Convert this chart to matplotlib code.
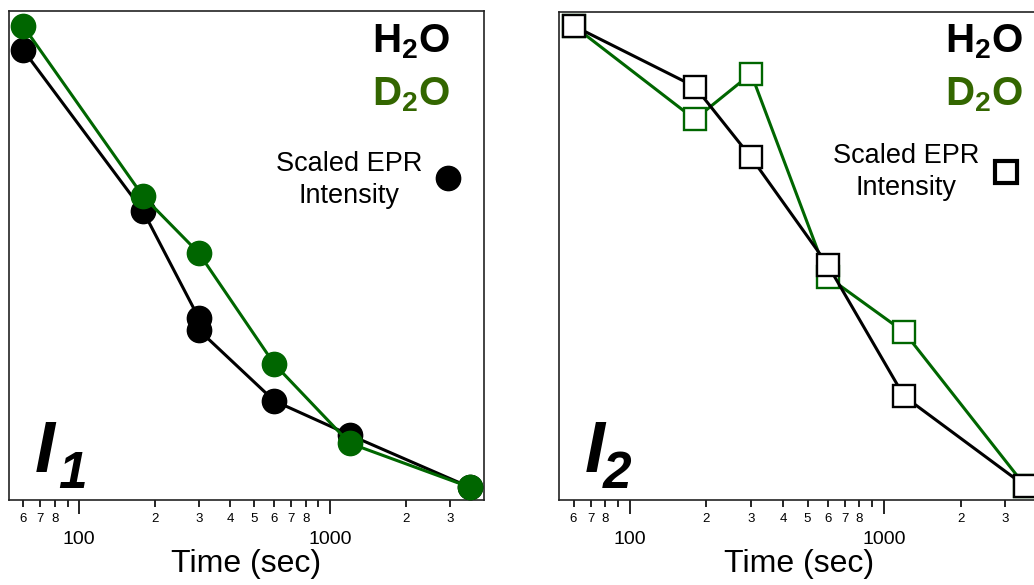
import matplotlib
matplotlib.use("Agg")
import matplotlib.pyplot as plt
from matplotlib.ticker import FixedLocator, FixedFormatter, NullLocator

plt.rcParams['font.family'] = ['Liberation Sans', 'DejaVu Sans']
plt.rcParams['mathtext.fontset'] = 'custom'
plt.rcParams['mathtext.rm'] = 'Liberation Sans'
plt.rcParams['mathtext.bf'] = 'Liberation Sans:bold'

# time points (sec)
t = [60, 180, 300, 600, 1200, 3600]
t_h2o_i1 = [60, 180, 300, 300, 600, 1200, 3600]   # replicate at 300 s

# scaled EPR intensity (normalised)
h2o_i1 = [0.948, 0.599, 0.367, 0.341, 0.187, 0.113, 0.0]
d2o_i1 = [1.0, 0.631, 0.508, 0.267, 0.095, 0.0]
h2o_i2 = [1.0, 0.868, 0.714, 0.481, 0.195, 0.0]
d2o_i2 = [1.0, 0.797, 0.896, 0.455, 0.335, 0.0]

minor_ticks = [60, 70, 80, 90, 200, 300, 400, 500, 600, 700, 800, 900, 2000, 3000]
minor_labels = ['6', '7', '8', '', '2', '3', '4', '5', '6', '7', '8', '', '2', '3']
major_ticks = [100, 1000]
major_labels = ['100', '1000']

GREEN = '#006600'
GREEN_TXT = '#336600'

fig = plt.figure(figsize=(10.34, 5.85), dpi=100)
ax1 = fig.add_axes([9 / 1034, 85 / 585, 475 / 1034, 489 / 585])
ax2 = fig.add_axes([559 / 1034, 85 / 585, 481 / 1034, 488 / 585])


def style_axis(ax, ylim):
    ax.set_xscale('log')
    ax.set_xlim(52.6, 4110)
    ax.set_ylim(*ylim)
    ax.xaxis.set_major_locator(FixedLocator(major_ticks))
    ax.xaxis.set_major_formatter(FixedFormatter(major_labels))
    ax.xaxis.set_minor_locator(FixedLocator(minor_ticks))
    ax.xaxis.set_minor_formatter(FixedFormatter(minor_labels))
    ax.yaxis.set_major_locator(NullLocator())
    ax.yaxis.set_minor_locator(NullLocator())
    ax.tick_params(axis='x', which='major', direction='out', length=10, width=1.2,
                   labelsize=14, pad=12)
    ax.tick_params(axis='x', which='minor', direction='out', length=5, width=1.2,
                   labelsize=9.5, pad=4)
    for s in ax.spines.values():
        s.set_linewidth(1.2)
        s.set_color('#222222')
    ax.set_xlabel('Time (sec)', fontsize=23, labelpad=1)


# I1 panel
ax1.plot(t_h2o_i1, h2o_i1, '-o', color='black', lw=2.2, ms=17.5, zorder=3)
ax1.plot(t, d2o_i1, '-o', color=GREEN, lw=2.2, ms=17.5, zorder=4)
style_axis(ax1, (-0.028, 1.033))

ax1.text(0.928, 0.937, r'H$\mathbf{_2}$O', transform=ax1.transAxes, ha='right', va='center',
         fontsize=29, fontweight='bold', color='black')
ax1.text(0.928, 0.828, r'D$\mathbf{_2}$O', transform=ax1.transAxes, ha='right', va='center',
         fontsize=29, fontweight='bold', color=GREEN_TXT)
ax1.text(0.716, 0.655, 'Scaled EPR\nIntensity', transform=ax1.transAxes, ha='center',
         va='center', fontsize=19.5, linespacing=1.3)
ax1.plot([0.924], [0.658], 'o', color='black', ms=17.5, transform=ax1.transAxes)
ax1.text(0.055, 0.057, 'I', transform=ax1.transAxes, fontsize=52, fontweight='bold',
         fontstyle='italic', ha='left', va='baseline')
ax1.text(0.103, 0.0245, '1', transform=ax1.transAxes, fontsize=37, fontweight='bold',
         fontstyle='italic', ha='left', va='baseline')

# I2 panel
ax2.plot(t, d2o_i2, '-s', color=GREEN, lw=2.2, ms=16.5, mfc='white', mew=1.7, zorder=3)
ax2.plot(t, h2o_i2, '-s', color='black', lw=2.2, ms=16.5, mfc='white', mew=1.7, zorder=4)
style_axis(ax2, (-0.030, 1.030))
ax2.spines['right'].set_visible(False)

ax2.text(0.965, 0.939, r'H$\mathbf{_2}$O', transform=ax2.transAxes, ha='right', va='center',
         fontsize=29, fontweight='bold', color='black')
ax2.text(0.965, 0.830, r'D$\mathbf{_2}$O', transform=ax2.transAxes, ha='right', va='center',
         fontsize=29, fontweight='bold', color=GREEN_TXT)
ax2.text(0.7215, 0.673, 'Scaled EPR\nIntensity', transform=ax2.transAxes, ha='center',
         va='center', fontsize=19.5, linespacing=1.3)
ax2.plot([0.929], [0.672], 's', color='black', mfc='white', ms=15.5, mew=3,
         transform=ax2.transAxes)
ax2.text(0.054, 0.057, 'I', transform=ax2.transAxes, fontsize=52, fontweight='bold',
         fontstyle='italic', ha='left', va='baseline')
ax2.text(0.0915, 0.0246, '2', transform=ax2.transAxes, fontsize=37, fontweight='bold',
         fontstyle='italic', ha='left', va='baseline')

fig.savefig('out.png', dpi=100)
